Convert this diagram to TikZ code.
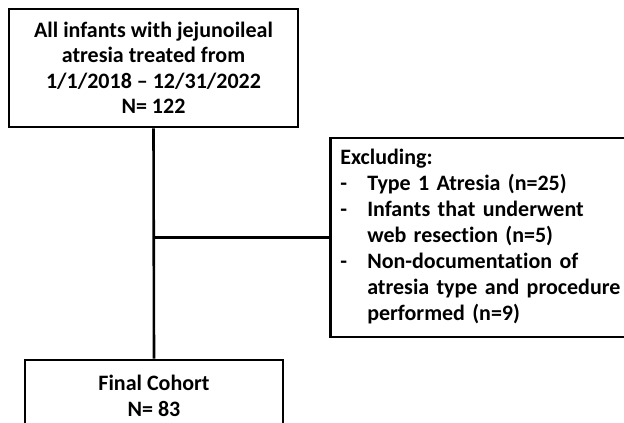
\documentclass[tikz,border=0pt]{standalone}
\usepackage{fontspec}
\setmainfont{Carlito}[Ligatures=NoCommon]
\usetikzlibrary{positioning, calc}

\tikzset{
  flowbox/.style={draw=black, line width=2.6pt, inner sep=0pt, align=center,
    font=\bfseries\fontsize{22}{25.5}\selectfont},
  exclbox/.style={draw=black, line width=2.6pt, inner xsep=10pt, inner ysep=0pt,
    anchor=west, font=\bfseries\fontsize{22}{26}\selectfont},
  link/.style={line width=2.6pt}
}

\begin{document}
\begin{tikzpicture}[x=1pt, y=1pt]
  \useasboundingbox (0,0) rectangle (624,423);
  \clip (0,0) rectangle (624,423);
  % boxes
  \node[flowbox, minimum width=289pt, minimum height=118pt] (allinf) at (153.5,355)
    {All infants with jejunoileal\\atresia treated from\\1/1/2018 -- 12/31/2022\\N= 122};
  \node[exclbox, minimum width=321pt, minimum height=199pt, text width=301pt] (excl) at (329,185.5)
    {\begin{tabular}{@{}p{27pt}@{}l@{}}
       \multicolumn{2}{@{}l@{}}{Excluding:}\\
       - & Type 1 Atresia (n=25)\\
       - & Infants that underwent\\
         & web resection (n=5)\\
       - & Non-documentation of\\
         & atresia type and procedure\\
         & performed (n=9)
     \end{tabular}};
  \node[flowbox, minimum width=258pt, minimum height=72pt] (final) at (154,27)
    {Final Cohort\\N= 83};
  % connectors
  \draw[link] (allinf.south) -- (final.north);
  \draw[link] (allinf.south |- excl.west) -- (excl.west);
\end{tikzpicture}
\end{document}
